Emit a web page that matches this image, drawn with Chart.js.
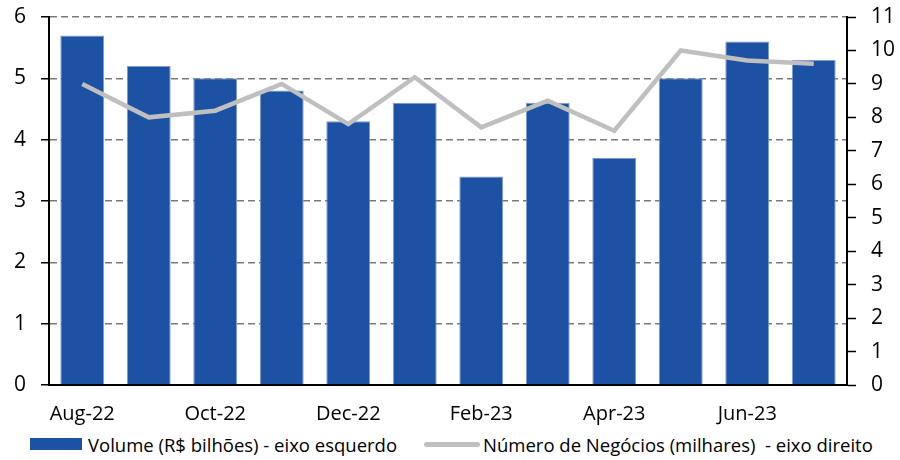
<!DOCTYPE html>
<html>
<head>
<meta charset="utf-8">
<script src="https://cdn.jsdelivr.net/npm/chart.js@4.4.0/dist/chart.umd.min.js"></script>
<style>
  body { margin: 0; background: #fff; font-family: "Open Sans", sans-serif; }
  #wrap { position: relative; width: 900px; height: 430px; }
  #legend { height: 28px; display: flex; align-items: center; font-size: 18.5px; color: #000; white-space: pre; }
  .sw-bar { display: inline-block; width: 52px; height: 12px; background: #1C51A3; margin-left: 30px; margin-right: 6px; }
  .sw-line { display: inline-block; width: 56px; height: 5px; background: #BFBFBF; border-radius: 3px; margin-left: 27px; margin-right: 3px; }
</style>
</head>
<body>
<div id="wrap"><canvas id="chart"></canvas></div>
<div id="legend"><span class="sw-bar"></span><span>Volume (R$ bilhões) - eixo esquerdo</span><span class="sw-line"></span><span>Número de Negócios (milhares)  - eixo direito</span></div>
<script>
var months = ["Aug-22", "Sep-22", "Oct-22", "Nov-22", "Dec-22", "Jan-23", "Feb-23", "Mar-23", "Apr-23", "May-23", "Jun-23", "Jul-23"];
var volume = [5.7, 5.2, 5.0, 4.8, 4.3, 4.6, 3.4, 4.6, 3.7, 5.0, 5.6, 5.3];
var negocios = [9.0, 8.0, 8.2, 9.0, 7.8, 9.2, 7.7, 8.5, 7.6, 10.0, 9.7, 9.6];
var leftTicks = [0, 1, 2, 3, 4, 5, 6];
var rightTicks = [0, 1, 2, 3, 4, 5, 6, 7, 8, 9, 10, 11];

var tickFont = { family: "Open Sans", size: 21 };

var config = {
  type: "bar",
  data: {
    labels: months,
    datasets: [
      {
        type: "line",
        label: "Número de Negócios (milhares)  - eixo direito",
        data: negocios,
        yAxisID: "y2",
        borderColor: "#BFBFBF",
        borderWidth: 4.5,
        pointRadius: 0,
        tension: 0,
        fill: false,
        order: 0
      },
      {
        label: "Volume (R$ bilhões) - eixo esquerdo",
        data: volume,
        yAxisID: "y",
        backgroundColor: "#1C51A3",
        borderColor: "#7D9AD0",
        borderWidth: 1,
        barPercentage: 0.66,
        categoryPercentage: 1.0,
        order: 1
      }
    ]
  },
  options: {
    responsive: false,
    animation: false,
    layout: { padding: { top: 17, left: 0, right: 0, bottom: 0 } },
    plugins: { legend: { display: false }, tooltip: { enabled: false } },
    scales: {
      x: {
        offset: true,
        grid: { display: false, drawTicks: false },
        border: { display: true, color: "#000", width: 2 },
        ticks: {
          autoSkip: false,
          maxRotation: 0,
          padding: 17,
          color: "#000",
          font: { family: "Open Sans", size: 20 },
          callback: function (v, i) { return i % 2 === 0 ? months[i] : ""; }
        },
        afterFit: function (s) { s.height = 45; s.paddingLeft = 0; s.paddingRight = 0; }
      },
      y: {
        position: "left",
        min: leftTicks[0],
        max: leftTicks[leftTicks.length - 1],
        grid: {
          color: function (c) { return c.tick && c.tick.value === 0 ? "rgba(0,0,0,0)" : "#7A7A7A"; },
          lineWidth: 1.5,
          tickColor: "#000",
          tickLength: 8,
          tickBorderDash: [],
          tickWidth: 1.5
        },
        border: { display: true, color: "#000", width: 2, dash: [7, 4] },
        afterBuildTicks: function (s) { s.ticks = leftTicks.map(function (v) { return { value: v }; }); },
        ticks: { color: "#000", font: tickFont, padding: 15 },
        afterFit: function (s) { s.width = 49; s.paddingTop = 0; s.paddingBottom = 0; }
      },
      y2: {
        position: "right",
        min: rightTicks[0],
        max: rightTicks[rightTicks.length - 1],
        grid: {
          drawOnChartArea: false,
          tickColor: "#000",
          tickLength: 9,
          tickWidth: 1.5
        },
        border: { display: true, color: "#000", width: 2 },
        afterBuildTicks: function (s) { s.ticks = rightTicks.map(function (v) { return { value: v }; }); },
        ticks: { color: "#000", font: tickFont, padding: 15 },
        afterFit: function (s) { s.width = 53; s.paddingTop = 0; s.paddingBottom = 0; }
      }
    }
  }
};

var canvas = document.getElementById("chart");
canvas.width = 900;
canvas.height = 430;
var ctx = canvas.getContext("2d");
window.myChart = new Chart(ctx, config);
</script>
</body>
</html>
